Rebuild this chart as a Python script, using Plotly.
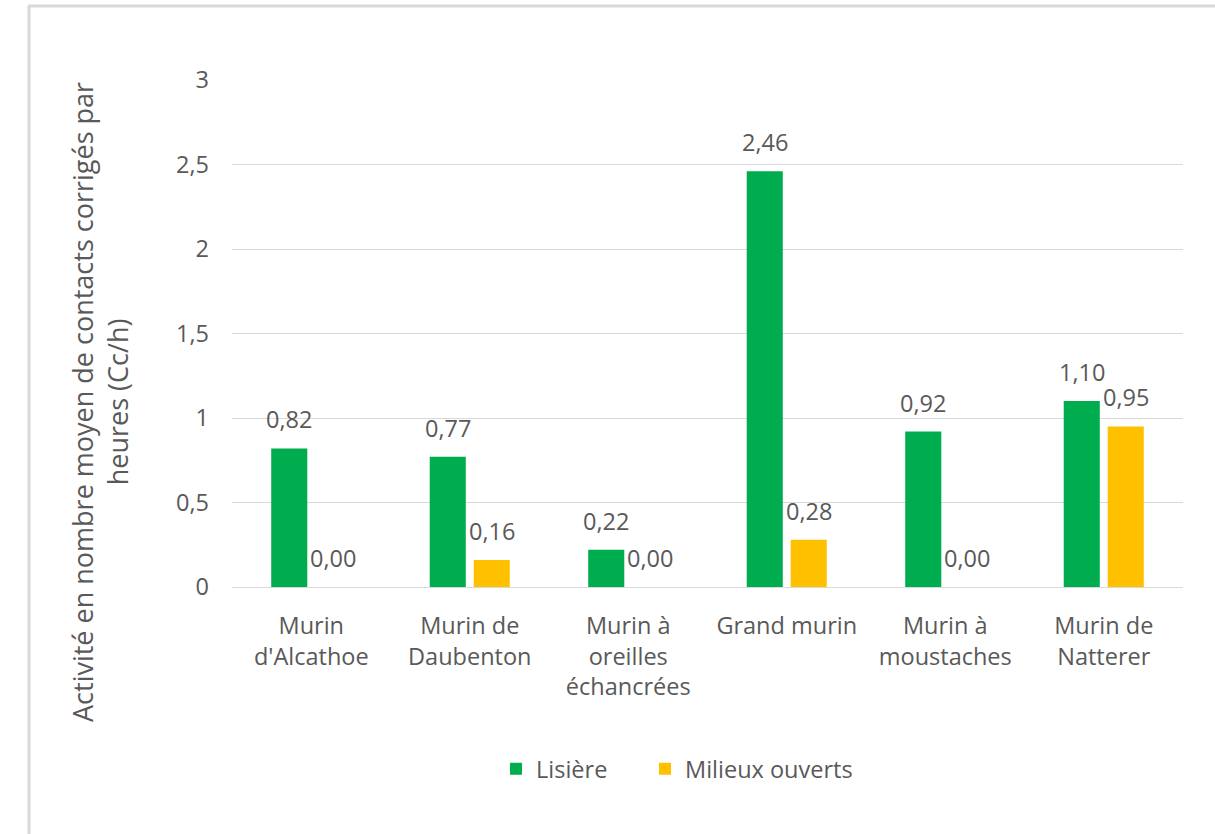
import plotly.graph_objects as go

# Species (x categories) and mean corrected contacts per hour for each habitat
categories = [
    "Murin<br>d'Alcathoe",
    "Murin de<br>Daubenton",
    "Murin à<br>oreilles<br>échancrées",
    "Grand murin",
    "Murin à<br>moustaches",
    "Murin de<br>Natterer",
]
lisiere = [0.82, 0.77, 0.22, 2.46, 0.92, 1.10]
milieux_ouverts = [0.00, 0.16, 0.00, 0.28, 0.00, 0.95]

series_names = ["Lisière", "Milieux ouverts"]
y_ticks = [0, 0.5, 1, 1.5, 2, 2.5, 3]

GREEN = "#00ad4e"
YELLOW = "#ffc000"
TEXT = "#595959"
GRID = "#d9d9d9"
FONT = "Open Sans"
FS = 23.5

W, H = 1215, 834
L, R, T, B = 232, 32, 80, 247

fig = go.Figure()
fig.add_trace(go.Bar(x=categories, y=lisiere, name=series_names[0],
                     legend="legend",
                     marker=dict(color=GREEN, line=dict(width=0))))
fig.add_trace(go.Bar(x=categories, y=milieux_ouverts, name=series_names[1],
                     legend="legend2",
                     marker=dict(color=YELLOW, line=dict(width=0))))

# value labels above each bar, decimal comma
annotations = []
for vals, shift in ((lisiere, -22), (milieux_ouverts, 22)):
    for cat, v in zip(categories, vals):
        annotations.append(dict(
            x=cat, y=v, xref="x", yref="y", xshift=shift, yshift=29,
            text=f"{v:.2f}".replace(".", ","), showarrow=False,
            xanchor="center", yanchor="middle",
            font=dict(family=FONT, size=FS, color=TEXT)))

# pixel -> paper helpers
pw, ph = W - L - R, H - T - B
def px_x(px):
    return (px - L) / pw
def px_y(py):
    return (H - B - py) / ph

# y-axis title
annotations.append(dict(
    x=px_x(100), y=px_y(402), xref="paper", yref="paper",
    text="Activité en nombre moyen de contacts corrigés par<br>heures (Cc/h)",
    textangle=-90, showarrow=False, xanchor="center", yanchor="middle",
    font=dict(family=FONT, size=27, color=TEXT)))

# chart frame (top and left edges)
shapes = [
    dict(type="line", xref="paper", yref="paper", x0=px_x(28), x1=px_x(W + 5),
         y0=px_y(6), y1=px_y(6), line=dict(color=GRID, width=3)),
    dict(type="line", xref="paper", yref="paper", x0=px_x(29), x1=px_x(29),
         y0=px_y(6), y1=px_y(H + 5), line=dict(color=GRID, width=3)),
]

legend_style = dict(orientation="h", xanchor="left", yanchor="middle",
                    font=dict(family=FONT, size=FS, color=TEXT),
                    itemwidth=30, bgcolor="rgba(0,0,0,0)")

fig.update_layout(
    width=W, height=H,
    margin=dict(l=L, r=R, t=T, b=B, autoexpand=False),
    paper_bgcolor="white", plot_bgcolor="white",
    separators=", ",
    barmode="group", bargap=0.445, bargroupgap=0.18,
    font=dict(family=FONT, size=FS, color=TEXT),
    showlegend=True,
    legend=dict(x=px_x(496), y=px_y(769), **legend_style),
    legend2=dict(x=px_x(645), y=px_y(769), **legend_style),
    annotations=annotations,
    shapes=shapes,
)
fig.update_xaxes(showgrid=False, showline=True, linecolor=GRID, linewidth=1,
                 ticks="", ticklabelstandoff=18,
                 tickfont=dict(family=FONT, size=FS, color=TEXT))
fig.update_yaxes(range=[0, 3], tickvals=y_ticks, showgrid=True, gridcolor=GRID,
                 gridwidth=1, zeroline=True, zerolinecolor=GRID, zerolinewidth=1,
                 showline=False, ticks="", ticklabelstandoff=22,
                 tickfont=dict(family=FONT, size=FS, color=TEXT))

fig.write_html("out.html")
